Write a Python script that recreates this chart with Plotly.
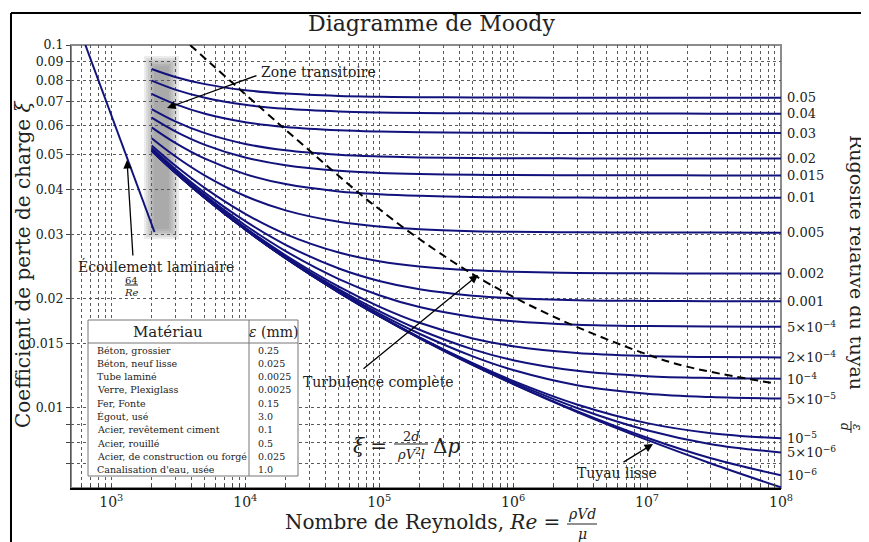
import math
import plotly.graph_objects as go

# Reynolds numbers where the curves were read
re_pts = [2e3, 3e3, 5e3, 1e4, 2e4, 5e4, 1e5, 2e5, 5e5, 1e6, 3e6, 1e7, 3e7, 1e8]

# friction coefficient per relative roughness
f_0_05 = [0.08584, 0.08162, 0.07799, 0.07505, 0.07344, 0.07238, 0.07200, 0.07179, 0.07166, 0.07161, 0.07157, 0.07156, 0.07155, 0.07155]
f_0_04 = [0.07972, 0.07532, 0.07152, 0.06840, 0.06669, 0.06556, 0.06515, 0.06493, 0.06479, 0.06473, 0.06470, 0.06468, 0.06467, 0.06467]
f_0_03 = [0.07334, 0.06870, 0.06464, 0.06127, 0.05940, 0.05816, 0.05770, 0.05746, 0.05730, 0.05724, 0.05720, 0.05718, 0.05717, 0.05717]
f_0_02 = [0.06658, 0.06159, 0.05714, 0.05336, 0.05122, 0.04979, 0.04926, 0.04897, 0.04878, 0.04872, 0.04867, 0.04865, 0.04864, 0.04864]
f_0_015 = [0.06302, 0.05778, 0.05304, 0.04895, 0.04659, 0.04499, 0.04439, 0.04407, 0.04386, 0.04378, 0.04372, 0.04370, 0.04369, 0.04369]
f_0_01 = [0.05928, 0.05372, 0.04859, 0.04404, 0.04134, 0.03946, 0.03875, 0.03836, 0.03810, 0.03801, 0.03794, 0.03792, 0.03791, 0.03790]
f_0_005 = [0.05533, 0.04934, 0.04364, 0.03833, 0.03499, 0.03253, 0.03156, 0.03102, 0.03065, 0.03052, 0.03043, 0.03039, 0.03038, 0.03037]
f_0_002 = [0.05283, 0.04650, 0.04030, 0.03422, 0.03010, 0.02677, 0.02533, 0.02449, 0.02390, 0.02368, 0.02352, 0.02345, 0.02343, 0.02342]
f_0_001 = [0.05197, 0.04551, 0.03910, 0.03267, 0.02812, 0.02418, 0.02234, 0.02119, 0.02035, 0.02003, 0.01978, 0.01969, 0.01965, 0.01964]
f_5e_4 = [0.05153, 0.04500, 0.03848, 0.03184, 0.02701, 0.02262, 0.02041, 0.01893, 0.01778, 0.01730, 0.01693, 0.01678, 0.01673, 0.01671]
f_2e_4 = [0.05127, 0.04470, 0.03810, 0.03132, 0.02631, 0.02155, 0.01899, 0.01713, 0.01551, 0.01477, 0.01415, 0.01388, 0.01378, 0.01375]
f_1e_4 = [0.05118, 0.04459, 0.03797, 0.03115, 0.02606, 0.02117, 0.01845, 0.01639, 0.01447, 0.01351, 0.01263, 0.01221, 0.01207, 0.01201]
f_5e_5 = [0.05114, 0.04454, 0.03791, 0.03106, 0.02594, 0.02097, 0.01816, 0.01598, 0.01384, 0.01269, 0.01153, 0.01092, 0.01069, 0.01059]
f_1e_5 = [0.05110, 0.04450, 0.03786, 0.03099, 0.02584, 0.02080, 0.01792, 0.01562, 0.01325, 0.01185, 0.01020, 0.009058, 0.008500, 0.008224]
f_5e_6 = [0.05109, 0.04449, 0.03785, 0.03098, 0.02583, 0.02078, 0.01789, 0.01558, 0.01317, 0.01173, 0.009974, 0.008657, 0.007927, 0.007519]
f_1e_6 = [0.05109, 0.04449, 0.03784, 0.03097, 0.02582, 0.02077, 0.01787, 0.01554, 0.01311, 0.01163, 0.009776, 0.008258, 0.007249, 0.006506]
f_lisse = [0.05109, 0.04449, 0.03784, 0.03097, 0.02581, 0.02076, 0.01786, 0.01553, 0.01309, 0.01161, 0.009724, 0.008142, 0.007013, 0.006026]

curves = [f_0_05, f_0_04, f_0_03, f_0_02, f_0_015, f_0_01, f_0_005, f_0_002, f_0_001,
          f_5e_4, f_2e_4, f_1e_4, f_5e_5, f_1e_5, f_5e_6, f_1e_6, f_lisse]
rugosite_labels = ["0.05", "0.04", "0.03", "0.02", "0.015", "0.01", "0.005", "0.002", "0.001",
                   "5×10<sup>−4</sup>", "2×10<sup>−4</sup>", "10<sup>−4</sup>", "5×10<sup>−5</sup>",
                   "10<sup>−5</sup>", "5×10<sup>−6</sup>", "10<sup>−6</sup>", ""]

# laminar flow 64/Re
lam_re = [640, 2100]
lam_f = [0.1, 0.0305]

# limit of complete turbulence (dashed)
turb_re = [3870, 1.82e4, 8.13e4, 1.02e5, 1.6e5, 5.36e5, 2.0e6, 9.4e6, 1.98e7, 8.8e7]
turb_f = [0.1, 0.0602, 0.0374, 0.0351, 0.0309, 0.02296, 0.01782, 0.01413, 0.01297, 0.01167]

materiaux = ["Béton, grossier", "Béton, neuf lisse", "Tube laminé", "Verre, Plexiglass", "Fer, Fonte",
             "Égout, usé", "Acier, revêtement ciment", "Acier, rouillé",
             "Acier, de construction ou forgé", "Canalisation d'eau, usée"]
eps_mm = ["0.25", "0.025", "0.0025", "0.0025", "0.15", "3.0", "0.1", "0.5", "0.025", "1.0"]

y_ticks = [0.007, 0.008, 0.009, 0.01, 0.015, 0.02, 0.03, 0.04, 0.05, 0.06, 0.07, 0.08, 0.09, 0.1]

FONT = "DejaVu Serif"
NAVY = "#12127c"
INK = "#222222"

# plot area in page pixels; the page body adds an 8px margin
W, H, BODY = 869, 542, 8
L, R, T, B = 71, 781, 45, 488


def xp(px):
    return (px - L) / (R - L)


def yp(py):
    return (B - py) / (B - T)


fig = go.Figure()

for f in curves:
    fig.add_trace(go.Scatter(x=re_pts, y=f, mode="lines", line=dict(color=NAVY, width=2, shape="spline"),
                             hoverinfo="skip", showlegend=False))
fig.add_trace(go.Scatter(x=lam_re, y=lam_f, mode="lines", line=dict(color=NAVY, width=2),
                         hoverinfo="skip", showlegend=False))
fig.add_trace(go.Scatter(x=turb_re, y=turb_f, mode="lines",
                         line=dict(color="black", width=2, dash="8px,5px", shape="spline"),
                         hoverinfo="skip", showlegend=False))

x_grid, x_text = [], []
for d in range(2, 9):
    for m in range(1, 10):
        v = m * 10 ** d
        if 550 < v <= 1e8:
            x_grid.append(v)
            x_text.append(f"10<sup>{d}</sup>" if m == 1 else "")

y_text = ["" if v < 0.01 else f"{v:g}" for v in y_ticks]

grid = dict(showgrid=True, gridcolor="#5a5a5a", gridwidth=1, griddash="3px,3px", zeroline=False)
fig.update_xaxes(type="log", range=[math.log10(500), 8], tickvals=x_grid, ticktext=x_text,
                 showline=True, linecolor="black", linewidth=2, ticks="inside", ticklen=4,
                 tickcolor="#444", tickfont=dict(size=14, family=FONT, color=INK), **grid)
fig.update_yaxes(type="log", range=[math.log10(0.006), -1], tickvals=y_ticks, ticktext=y_text,
                 showline=True, linecolor="#555", linewidth=1, ticks="outside", ticklen=4,
                 tickcolor="#444", tickfont=dict(size=12.5, family=FONT, color=INK), **grid)

shapes = []
# plot frame
shapes.append(dict(type="rect", xref="paper", yref="paper", x0=0, x1=1, y0=0, y1=1,
                   line=dict(color="#8c8c8c", width=2), layer="below"))
# outer black border
shapes.append(dict(type="line", xref="paper", yref="paper", x0=xp(11), x1=xp(880), y0=yp(13), y1=yp(13),
                   line=dict(color="black", width=2)))
shapes.append(dict(type="line", xref="paper", yref="paper", x0=xp(11), x1=xp(11), y0=yp(13), y1=yp(560),
                   line=dict(color="black", width=2)))
# blurred transition zone
for k in range(6):
    shapes.append(dict(type="rect", xref="paper", yref="paper",
                       x0=xp(144 + 2 * k), x1=xp(179 - 2 * k), y0=yp(239 - 2 * k), y1=yp(56 + 2 * k),
                       fillcolor="rgba(110,110,110,0.13)", line=dict(width=0), layer="between"))
# materials table
shapes.append(dict(type="rect", xref="paper", yref="paper", x0=xp(88), x1=xp(298), y0=yp(476), y1=yp(320),
                   fillcolor="white", line=dict(color="#777", width=1), layer="above"))
shapes.append(dict(type="line", xref="paper", yref="paper", x0=xp(88), x1=xp(298), y0=yp(343), y1=yp(343),
                   line=dict(color="#777", width=1), layer="above"))
shapes.append(dict(type="line", xref="paper", yref="paper", x0=xp(249), x1=xp(249), y0=yp(476), y1=yp(320),
                   line=dict(color="#777", width=1), layer="above"))
# fraction bars
for x0, x1, y0, y1 in [(125, 138, 285, 285), (567, 597, 524, 524), (394, 428, 444, 444), (851, 851, 421, 433)]:
    shapes.append(dict(type="line", xref="paper", yref="paper", x0=xp(x0), x1=xp(x1), y0=yp(y0), y1=yp(y1),
                       line=dict(color=INK, width=1)))
fig.update_layout(shapes=shapes)


def note(text, x, y, size, xanchor="center", angle=0):
    fig.add_annotation(text=text, x=xp(x), y=yp(y), xref="paper", yref="paper", showarrow=False,
                       font=dict(size=size, family=FONT, color=INK), xanchor=xanchor, yanchor="middle",
                       textangle=angle)


def arrow(hx, hy, tx, ty):
    fig.add_annotation(x=xp(hx), y=yp(hy), xref="paper", yref="paper", ax=tx - hx, ay=ty - hy, text="",
                       showarrow=True, arrowhead=2, arrowsize=1.3, arrowwidth=1.3, arrowcolor="black")


note("Diagramme de Moody", 431, 23, 22)
note("Coefficient de perte de charge <i>ξ</i>", 23, 265, 20, angle=-90)
note("Rugosité relative du tuyau", 857, 262, 19, angle=90)
note("<i>ε</i>", 857, 427, 12, angle=90)
note("<i>d</i>", 845, 427, 12, angle=90)
note("Nombre de Reynolds, <i>Re</i> =", 562, 522, 20, xanchor="right")
note("<i>ρVd</i>", 582, 514, 14)
note("<i>μ</i>", 582, 534, 14)

note("Zone transitoire", 318, 72, 14)
note("Écoulement laminaire", 156, 266, 14)
note("64", 131, 280, 10)
note("<i>Re</i>", 131, 292, 10)
note("Turbulence complète", 378, 382, 14)
note("Tuyau lisse", 617, 473, 14)
note("<i>ξ</i> =", 389, 446, 20, xanchor="right")
note("2<i>d</i>", 411, 436, 13)
note("<i>ρV</i><sup>2</sup><i>l</i>", 411, 454, 13)
note("Δ<i>p</i>", 431, 446, 20, xanchor="left")

arrow(167, 108, 258, 75)
arrow(127, 160, 133, 257)
arrow(478, 275, 362, 370)
arrow(653, 444, 622, 463)

# table content
note("Matériau", 168, 332, 15)
note("<i>ε</i> (mm)", 273, 332, 14)
for i, (m, e) in enumerate(zip(materiaux, eps_mm)):
    note(m, 95, 350 + i * 13.3, 9.5, xanchor="left")
    note(e, 256, 350 + i * 13.3, 9.5, xanchor="left")

# roughness labels at the curve ends
for f, lab in zip(curves, rugosite_labels):
    if lab:
        fig.add_annotation(text=lab, x=xp(785), y=math.log10(f[-1]), xref="paper", yref="y",
                           showarrow=False, xanchor="left", yanchor="middle",
                           font=dict(size=13, family=FONT, color=INK))

# the figure is shifted by the body margin, so it is drawn 8px smaller and offset
fig.update_layout(width=W - BODY, height=H - BODY,
                  margin=dict(l=L - BODY, r=W - R, t=T - BODY, b=H - B),
                  plot_bgcolor="white", paper_bgcolor="white",
                  font=dict(family=FONT, color=INK), showlegend=False)

fig.write_html("out.html")
